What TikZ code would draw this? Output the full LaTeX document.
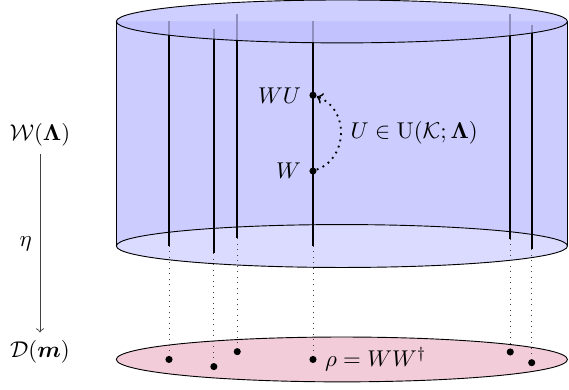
\documentclass[tikz,border=0pt]{standalone}
\usepackage{amsmath}
\usepackage{amssymb}
\usepackage{xcolor}
\usetikzlibrary{positioning}

\begin{document}
\begin{tikzpicture}[dot/.style={circle, fill=black, inner sep=1.1pt}]
            \useasboundingbox (0,0) rectangle (8.754,5.985);
            % cylinder body and bottom disk
            \fill[blue!20] (1.79,2.20) -- (1.79,5.655) -- (8.73,5.655) -- (8.73,2.20) arc[start angle=0, end angle=-180, x radius=3.47, y radius=0.33] -- cycle;
            \draw (1.79,2.20) -- (1.79,5.655);
            \draw (8.73,2.20) -- (8.73,5.655);
            \filldraw[fill=blue!14] (5.26,2.20) ellipse (3.47 and 0.33);
            \filldraw[fill=purple!20] (5.26,0.455) ellipse (3.47 and 0.345);

            \foreach \x/\d [count=\i] in {2.60/0, 3.29/-0.11, 3.65/0.12, 4.815/0, 7.85/0.115, 8.18/-0.05} {
                \coordinate (t\i) at (\x,{5.655+\d});
                \coordinate (b\i) at (\x,{2.20+\d});
                \node[dot] (p\i) at (\x,{0.455+\d}) {};
                \draw[thick] (t\i) -- (b\i);
                \draw[dotted, black!75] (b\i) -- (p\i);
            }

            % top disk
            \fill[blue!25, opacity=0.75] (5.26,5.655) ellipse (3.47 and 0.33);
            \draw (5.26,5.655) ellipse (3.47 and 0.33);

            \node[dot] (WU) at (4.815,4.52) {};
            \node[dot] (W) at (4.815,3.354) {};
            \node[left=0pt of WU] (lWU) {$WU$};
            \node[left=0pt of W] (lW) {$W$};
            \draw[dotted, thick, ->] (W) to[bend right=70, looseness=1.2] (WU);
            \node[anchor=west] (lU) at (5.27,3.94) {$U \in \mathrm{U}(\mathcal{K};\mathbf{\Lambda})$};
            \node[right=0pt of p4] (rho) {$\rho = WW^{\dagger}$};

            \node (Wlam) at (0.615,3.91) {$\mathcal{W}(\mathbf{\Lambda})$};
            \node (Dm) at (0.615,0.57) {$\mathcal{D}(\boldsymbol{m})$};
            \draw[->, black!75] (Wlam) -- node[left, text=black] (eta) {$\eta$} (Dm);
        \end{tikzpicture}
\end{document}
